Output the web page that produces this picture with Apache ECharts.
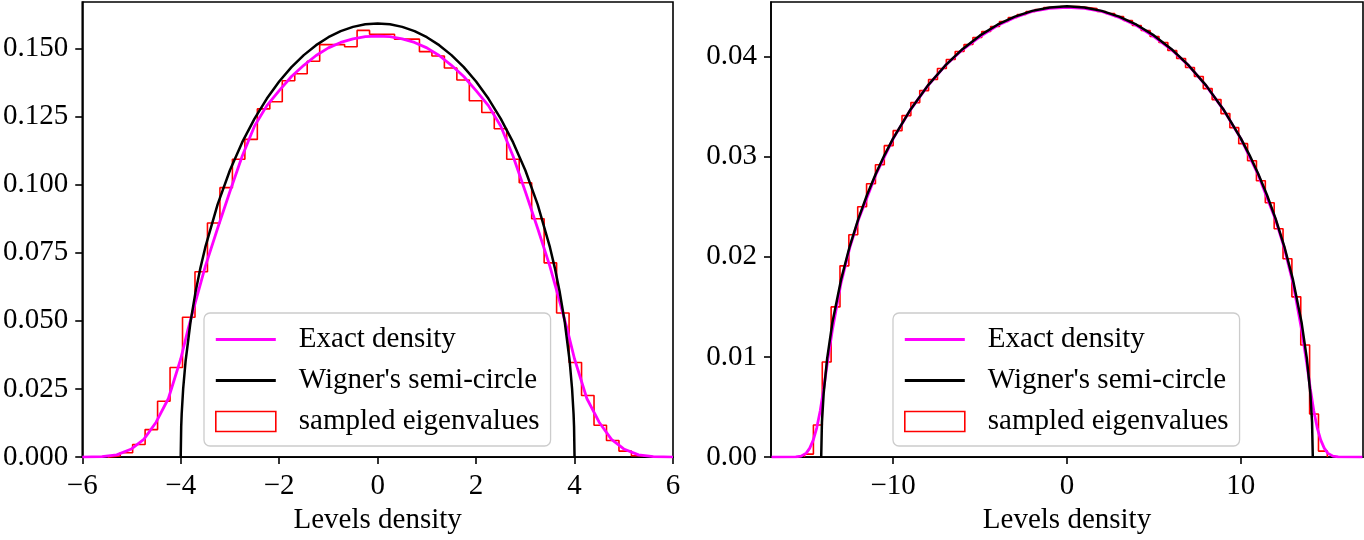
<!DOCTYPE html>
<html>
<head>
<meta charset="utf-8">
<script src="https://cdn.jsdelivr.net/npm/echarts@6/dist/echarts.min.js"></script>
<style>
  html, body { margin: 0; padding: 0; background: #fff; }
  #chart { width: 1364px; height: 540px; }
</style>
</head>
<body>
<div id="chart"></div>
<script>
// ---------------- Data ----------------
// Left panel
const leftXTicks = [-6, -4, -2, 0, 2, 4, 6];
const leftYTicks = [0, 0.025, 0.05, 0.075, 0.1, 0.125, 0.15];
const leftHistStart = -5.483;
const leftHistWidth = 0.2533;
const leftHist = [0.0004, 0.0016, 0.0046, 0.0101, 0.0205, 0.0329, 0.0513, 0.0680,
  0.0859, 0.0989, 0.1093, 0.1166, 0.1278, 0.1304, 0.1381, 0.1407, 0.1453, 0.1514,
  0.1514, 0.1506, 0.1566, 0.1552, 0.1552, 0.1534, 0.1534, 0.1488, 0.1472, 0.1428,
  0.1384, 0.1308, 0.1265, 0.1205, 0.1093, 0.1007, 0.0875, 0.0713, 0.0529, 0.0347,
  0.0226, 0.0117, 0.0061, 0.0022, 0.0005];
const leftWignerX = [-4, -3.99, -3.98, -3.95, -3.9, -3.8, -3.7, -3.6, -3.5, -3.25, -3, -2.75, -2.5,
  -2.25, -2, -1.75, -1.5, -1.25, -1, -0.75, -0.5, -0.25, 0, 0.25, 0.5, 0.75, 1, 1.25, 1.5,
  1.75, 2, 2.25, 2.5, 2.75, 3, 3.25, 3.5, 3.6, 3.7, 3.8, 3.9, 3.95, 3.98, 3.99, 4];
const leftWignerY = [0, 0.01125, 0.01590, 0.02509, 0.03537, 0.04970, 0.06047, 0.06937, 0.07705,
  0.09278, 0.10527, 0.11558, 0.12424, 0.13159, 0.13783, 0.14312, 0.14754, 0.15119, 0.15410,
  0.15634, 0.15791, 0.15885, 0.15915, 0.15885, 0.15791, 0.15634, 0.15410, 0.15119, 0.14754,
  0.14312, 0.13783, 0.13159, 0.12424, 0.11558, 0.10527, 0.09278, 0.07705, 0.06937, 0.06047,
  0.04970, 0.03537, 0.02509, 0.01590, 0.01125, 0];
const leftExactX = [-6, -5.6, -5.3, -5, -4.75, -4.5, -4.25, -4, -3.85, -3.7, -3.5, -3.25, -3,
  -2.75, -2.5, -2.25, -2, -1.75, -1.5, -1.25, -1, -0.75, -0.5, -0.25, 0, 0.25, 0.5, 0.75,
  1, 1.25, 1.5, 1.75, 2, 2.25, 2.5, 2.75, 3, 3.25, 3.5, 3.7, 3.85, 4, 4.25, 4.5, 4.75, 5,
  5.3, 5.6, 6];
const leftExactY = [0, 0.0002, 0.0008, 0.0030, 0.0065, 0.0128, 0.0215, 0.0360, 0.0470, 0.0570,
  0.0700, 0.0840, 0.0975, 0.1105, 0.1215, 0.1290, 0.1345, 0.1397, 0.1438, 0.1474, 0.1502,
  0.1522, 0.1535, 0.1543, 0.1545, 0.1543, 0.1535, 0.1522, 0.1502, 0.1474, 0.1438, 0.1397,
  0.1345, 0.1290, 0.1215, 0.1105, 0.0975, 0.0840, 0.0700, 0.0570, 0.0470, 0.0360, 0.0215,
  0.0128, 0.0065, 0.0030, 0.0008, 0.0002, 0];

// Right panel
const rightXTicks = [-10, 0, 10];
const rightYTicks = [0, 0.01, 0.02, 0.03, 0.04];
const rightHistStart = -15.1;
const rightHistWidth = 0.5098;
const rightHist = [0.0003, 0.0032, 0.0095, 0.0150, 0.0191, 0.0222, 0.0250, 0.0273, 0.0292,
  0.0311, 0.0326, 0.0341, 0.0354, 0.0366, 0.0377, 0.0388, 0.0397, 0.0405, 0.0412, 0.0419,
  0.0425, 0.0430, 0.0435, 0.0439, 0.0442, 0.0445, 0.0447, 0.0449, 0.0450, 0.0450, 0.0450,
  0.0449, 0.0448, 0.0445, 0.0443, 0.0440, 0.0436, 0.0431, 0.0426, 0.0420, 0.0414, 0.0406,
  0.0398, 0.0389, 0.0380, 0.0368, 0.0357, 0.0343, 0.0329, 0.0313, 0.0296, 0.0276, 0.0254,
  0.0228, 0.0198, 0.0160, 0.0112, 0.0043, 0.0006];
const rightWignerX = [-14.142, -14.1, -14, -13.8, -13.5, -13, -12.5, -12, -11.5, -11, -10.5, -10,
  -9, -8, -7, -6, -5, -4, -3, -2, -1, 0, 1, 2, 3, 4, 5, 6, 7, 8, 9, 10, 10.5, 11, 11.5, 12,
  12.5, 13, 13.5, 13.8, 14, 14.1, 14.142];
const rightWignerY = [0, 0.00347, 0.00637, 0.00984, 0.01341, 0.01772, 0.02105, 0.02382, 0.02620,
  0.02829, 0.03016, 0.03183, 0.03472, 0.03712, 0.03911, 0.04076, 0.04211, 0.04318, 0.04399,
  0.04456, 0.04490, 0.04502, 0.04490, 0.04456, 0.04399, 0.04318, 0.04211, 0.04076, 0.03911,
  0.03712, 0.03472, 0.03183, 0.03016, 0.02829, 0.02620, 0.02382, 0.02105, 0.01772, 0.01341,
  0.00984, 0.00637, 0.00347, 0];
const rightExactX = [-17, -15.6, -15.3, -15, -14.8, -14.6, -14.4, -14.2, -14, -13.8, -13.5, -13,
  -12.5, -12, -11, -10, -9, -8, -7, -6, -5, -4, -3, -2, -1, 0, 1, 2, 3, 4, 5, 6, 7, 8, 9, 10,
  11, 12, 12.5, 13, 13.5, 13.8, 14, 14.2, 14.4, 14.6, 14.8, 15, 15.3, 15.6, 17];
const rightExactY = [0, 0.00002, 0.0001, 0.0004, 0.0009, 0.0017, 0.0029, 0.0046, 0.0068, 0.0093,
  0.0127, 0.0174, 0.0209, 0.0237, 0.0282, 0.0318, 0.0347, 0.0371, 0.0391, 0.0407, 0.0420,
  0.0431, 0.0439, 0.0445, 0.0448, 0.0449, 0.0448, 0.0445, 0.0439, 0.0431, 0.0420, 0.0407,
  0.0391, 0.0371, 0.0347, 0.0318, 0.0282, 0.0237, 0.0209, 0.0174, 0.0127, 0.0093, 0.0068,
  0.0046, 0.0029, 0.0017, 0.0009, 0.0004, 0.0001, 0.00002, 0];

const names = ['Exact density', "Wigner's semi-circle", 'sampled eigenvalues'];

// ---------------- Helpers ----------------
function zip(xs, ys) { return xs.map((x, i) => [x, ys[i]]); }
function stepOutline(start, width, h) {
  const pts = [[start, 0]];
  for (let i = 0; i < h.length; i++) {
    const a = start + i * width, b = start + (i + 1) * width;
    pts.push([a, h[i]], [b, h[i]]);
  }
  pts.push([start + h.length * width, 0]);
  return pts;
}
const FONT = '"Liberation Serif", "Times New Roman", Times, serif';
const FS = 29;
const minusFmt = v => (v < 0 ? '\u2212' + Math.abs(v) : String(v));

function xAxis(idx, min, max, ticks) {
  return {
    type: 'value', gridIndex: idx, min: min, max: max,
    name: 'Levels density', nameLocation: 'middle', nameGap: 46,
    nameTextStyle: { fontFamily: FONT, fontSize: FS, color: '#000' },
    axisLine: { show: true, onZero: false, lineStyle: { color: '#000', width: 1.6 } },
    axisTick: { show: true, inside: false, length: 7, customValues: ticks, lineStyle: { color: '#000', width: 1.6 } },
    axisLabel: { customValues: ticks, margin: 15, fontFamily: FONT, fontSize: FS, color: '#000', formatter: minusFmt, hideOverlap: false },
    splitLine: { show: false }
  };
}
function yAxis(idx, max, ticks, digits) {
  return {
    type: 'value', gridIndex: idx, min: 0, max: max,
    axisLine: { show: true, onZero: false, lineStyle: { color: '#000', width: 1.6 } },
    axisTick: { show: true, inside: false, length: 7, customValues: ticks, lineStyle: { color: '#000', width: 1.6 } },
    axisLabel: { customValues: ticks, margin: 14, fontFamily: FONT, fontSize: FS, color: '#000', formatter: v => v.toFixed(digits) },
    splitLine: { show: false }
  };
}
function legend(left) {
  return {
    left: left, top: 313, orient: 'vertical',
    padding: [12, 11, 10, 11],
    itemWidth: 60, itemHeight: 20, itemGap: 12,
    backgroundColor: 'rgba(255,255,255,0.8)',
    borderColor: '#cccccc', borderWidth: 1.3, borderRadius: 6,
    selectedMode: false,
    textStyle: { fontFamily: FONT, fontSize: FS, color: '#000', padding: [0, 0, 0, 18] },
    data: [
      { name: names[0], icon: 'path://M0,0h60v3h-60z' },
      { name: names[1], icon: 'path://M0,0h60v3h-60z' },
      { name: names[2], icon: 'rect', itemStyle: { color: 'rgba(255,255,255,0)', borderColor: '#ff0000', borderWidth: 1.6 } }
    ]
  };
}
function lineSeries(name, idx, data, color, width, z) {
  return {
    name: name, type: 'line', xAxisIndex: idx, yAxisIndex: idx, data: data,
    symbol: 'none', showSymbol: false, smooth: false, z: z,
    lineStyle: { color: color, width: width }, itemStyle: { color: color },
    emphasis: { disabled: true }, silent: true, clip: true
  };
}

const chart = echarts.init(document.getElementById('chart'), null, { renderer: 'canvas' });
chart.setOption({
  animation: false,
  backgroundColor: '#ffffff',
  grid: [
    { left: 82, right: 691, top: 2, bottom: 79, show: true, borderColor: '#000', borderWidth: 1.6, backgroundColor: 'transparent' },
    { left: 771, right: 1, top: 2, bottom: 79, show: true, borderColor: '#000', borderWidth: 1.6, backgroundColor: 'transparent' }
  ],
  xAxis: [xAxis(0, -6, 6, leftXTicks), xAxis(1, -17.03, 17.03, rightXTicks)],
  yAxis: [yAxis(0, 0.16703, leftYTicks, 3), yAxis(1, 0.045446, rightYTicks, 2)],
  legend: [legend(204), legend(893)],
  series: [
    lineSeries(names[2], 0, stepOutline(leftHistStart, leftHistWidth, leftHist), '#ff0000', 1.6, 2),
    lineSeries(names[0], 0, zip(leftExactX, leftExactY), '#ff00ff', 2.8, 3),
    lineSeries(names[1], 0, zip(leftWignerX, leftWignerY), '#000000', 2.5, 4),
    lineSeries(names[2], 1, stepOutline(rightHistStart, rightHistWidth, rightHist), '#ff0000', 1.6, 2),
    lineSeries(names[0], 1, zip(rightExactX, rightExactY), '#ff00ff', 2.8, 3),
    lineSeries(names[1], 1, zip(rightWignerX, rightWignerY), '#000000', 2.5, 4)
  ]
});
</script>
</body>
</html>
